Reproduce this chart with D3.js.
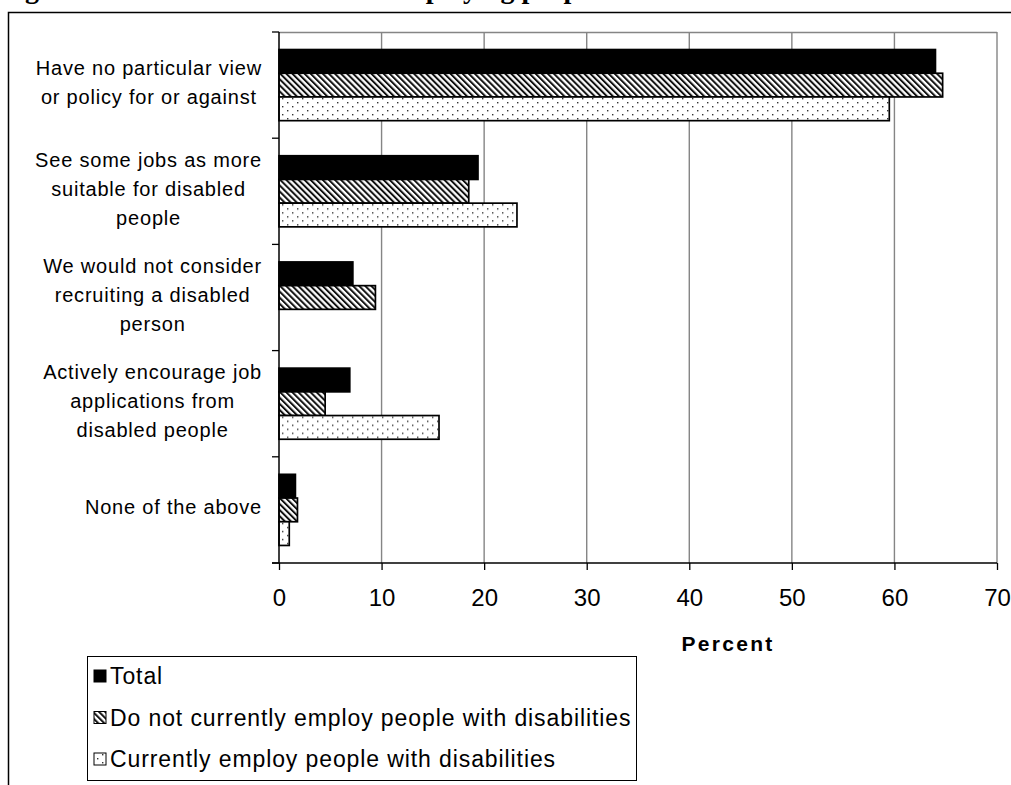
<!DOCTYPE html>
<html>
<head>
<meta charset="utf-8">
<script src="https://cdn.jsdelivr.net/npm/d3@7"></script>
<style>
  html, body { margin: 0; padding: 0; background: #fff; }
  svg { display: block; font-family: "Liberation Sans", Arial, sans-serif; }
</style>
</head>
<body>
<svg id="chart" width="1011" height="785"></svg>
<script>
// Employer policy towards recruiting disabled people, by current employment of disabled staff
const categories = [
  ["Have no particular view", "or policy for or against"],
  ["See some jobs as more", "suitable for disabled", "people"],
  ["We would not consider", "recruiting a disabled", "person"],
  ["Actively encourage job", "applications from", "disabled people"],
  ["None of the above"]
];
const seriesNames = [
  "Total",
  "Do not currently employ people with disabilities",
  "Currently employ people with disabilities"
];
const totalValues     = [64.0, 19.4, 7.2, 6.9, 1.6];
const notEmployValues = [64.7, 18.5, 9.4, 4.5, 1.8];
const employValues    = [59.5, 23.2, null, 15.6, 1.0];
const xTicks = [0, 10, 20, 30, 40, 50, 60, 70];
const titleStart = "Figure 3.4 Stated attitudes towards";
const titleEnd = "employing people with disabilities";
const xTitle = "Percent";

const seriesValues = [totalValues, notEmployValues, employValues];

const svg = d3.select("#chart");
const defs = svg.append("defs");

// Fill patterns: solid black, downward diagonal hatching, sparse dots
const hatch = defs.append("pattern")
  .attr("id", "hatch").attr("patternUnits", "userSpaceOnUse")
  .attr("width", 4.3).attr("height", 4.3)
  .attr("patternTransform", "rotate(-45)");
hatch.append("rect").attr("width", 4.3).attr("height", 4.3).attr("fill", "#fff");
hatch.append("rect").attr("x", 0).attr("width", 2).attr("height", 4.3).attr("fill", "#111");

const dots = defs.append("pattern")
  .attr("id", "dots").attr("patternUnits", "userSpaceOnUse")
  .attr("width", 10).attr("height", 8);
dots.append("rect").attr("width", 10).attr("height", 8).attr("fill", "#fff");
dots.append("rect").attr("x", 2).attr("y", 2).attr("width", 1.4).attr("height", 1.4).attr("fill", "#333");
dots.append("rect").attr("x", 7).attr("y", 6).attr("width", 1.4).attr("height", 1.4).attr("fill", "#333");

const fills = ["#000", "url(#hatch)", "url(#dots)"];

// Outer frame (left and top edges)
svg.append("path")
  .attr("d", "M8.5,785 V12.5 H1011")
  .attr("fill", "none").attr("stroke", "#000").attr("stroke-width", 1.5);

// Heading, mostly above the visible page
const heading = svg.append("text")
  .attr("y", -2)
  .attr("font-family", "'Liberation Serif', 'DejaVu Serif', serif")
  .attr("font-weight", "bold").attr("font-size", 28);
heading.append("tspan").attr("x", 0).text(titleStart);
heading.append("tspan").attr("x", 390).text(titleEnd);

const plot = { left: 279, right: 997, top: 32, bottom: 563 };

const x = d3.scaleLinear().domain([0, 70]).range([plot.left, plot.right]);
const y = d3.scaleBand().domain(d3.range(categories.length)).range([plot.top, plot.bottom]).paddingInner(0).paddingOuter(0);
const ySub = d3.scaleBand().domain(d3.range(seriesNames.length)).range([0, y.bandwidth()]).paddingInner(0).paddingOuter(0.74);

// Vertical gridlines
svg.append("g").selectAll("line").data(xTicks.slice(1)).join("line")
  .attr("x1", d => x(d)).attr("x2", d => x(d))
  .attr("y1", plot.top).attr("y2", plot.bottom)
  .attr("stroke", "#858585").attr("stroke-width", 1.4);
// Plot area top edge
svg.append("line")
  .attr("x1", plot.left).attr("x2", plot.right)
  .attr("y1", plot.top + 0.5).attr("y2", plot.top + 0.5)
  .attr("stroke", "#858585").attr("stroke-width", 1.4);

// Bars
const groups = svg.append("g").selectAll("g").data(categories).join("g")
  .attr("transform", (d, i) => `translate(0,${y(i)})`);
groups.each(function(d, ci) {
  const g = d3.select(this);
  seriesValues.forEach((vals, si) => {
    const v = vals[ci];
    if (v == null) return;
    g.append("rect")
      .attr("x", x(0)).attr("y", ySub(si))
      .attr("width", x(v) - x(0)).attr("height", ySub.bandwidth())
      .attr("fill", fills[si]).attr("stroke", "#000").attr("stroke-width", 1.7);
  });
});

// Category axis line with ticks at band edges
const yEdges = d3.range(categories.length + 1).map(i => plot.top + i * y.step());
svg.append("line")
  .attr("x1", plot.left).attr("x2", plot.left)
  .attr("y1", plot.top).attr("y2", plot.bottom)
  .attr("stroke", "#000").attr("stroke-width", 1.5);
svg.append("g").selectAll("line").data(yEdges).join("line")
  .attr("x1", plot.left - 7).attr("x2", plot.left)
  .attr("y1", d => d).attr("y2", d => d)
  .attr("stroke", "#000").attr("stroke-width", 1.3);

// Category labels: centred lines, block right-aligned near the axis
const labelRight = 262;
const lineH = 29;
categories.forEach((lines, ci) => {
  const cy = y(ci) + y.bandwidth() / 2;
  const t = svg.append("text")
    .attr("font-size", 20).attr("letter-spacing", 0.8)
    .attr("text-anchor", "middle").attr("fill", "#000");
  const spans = lines.map((ln, li) => t.append("tspan")
    .attr("y", cy + (li - (lines.length - 1) / 2) * lineH + 4.5)
    .text(ln));
  const w = d3.max(spans, s => s.node().getComputedTextLength());
  spans.forEach(s => s.attr("x", labelRight - w / 2));
});

// Value axis
const xAxis = d3.axisBottom(x).tickValues(xTicks).tickSize(7).tickPadding(19);
const gx = svg.append("g").attr("transform", `translate(0,${plot.bottom})`).call(xAxis);
gx.select(".domain").remove();
gx.selectAll(".tick line").attr("stroke", "#000").attr("stroke-width", 1.3);
gx.selectAll(".tick text")
  .attr("font-family", "'Liberation Sans', Arial, sans-serif")
  .attr("font-size", 24).attr("fill", "#000");
svg.append("line")
  .attr("x1", plot.left - 7).attr("x2", plot.right)
  .attr("y1", plot.bottom).attr("y2", plot.bottom)
  .attr("stroke", "#000").attr("stroke-width", 1.5);

svg.append("text")
  .attr("x", 728).attr("y", 651)
  .attr("text-anchor", "middle").attr("font-weight", "bold")
  .attr("font-size", 21).attr("letter-spacing", 2.3)
  .text(xTitle);

// Legend
const legend = svg.append("g");
legend.append("rect")
  .attr("x", 87.5).attr("y", 656.5).attr("width", 549).attr("height", 124)
  .attr("fill", "#fff").attr("stroke", "#000").attr("stroke-width", 1);
seriesNames.forEach((name, i) => {
  const ly = 676 + i * 41.5;
  legend.append("rect")
    .attr("x", 94).attr("y", ly - 6).attr("width", 12).attr("height", 12)
    .attr("fill", fills[i]).attr("stroke", "#000").attr("stroke-width", 1);
  legend.append("text")
    .attr("x", 110).attr("y", ly + 8)
    .attr("font-size", 23).attr("letter-spacing", 0.9)
    .text(name);
});
</script>
</body>
</html>
